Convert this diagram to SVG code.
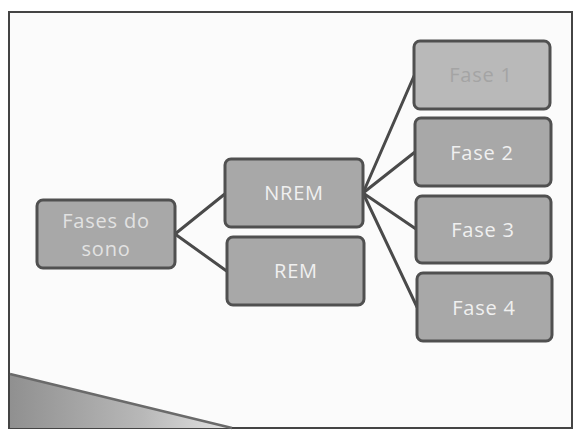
<svg xmlns="http://www.w3.org/2000/svg" width="575" height="432" viewBox="0 0 575 432">
<defs>
<linearGradient id="wedge" x1="0" y1="0" x2="1" y2="0">
<stop offset="0" stop-color="#909090"/>
<stop offset="0.6" stop-color="#b8b8b8"/>
<stop offset="1" stop-color="#e4e4e4"/>
</linearGradient>
</defs>
<style>
.box{fill:#a8a8a8;stroke:#505050;stroke-width:3}
.light{fill:#b9b9b9}
.lbl{font-family:"Open Sans","DejaVu Sans",sans-serif;font-size:20px;letter-spacing:0.8px;fill:#f0f0f0;text-anchor:middle}
.conn line{stroke:#4a4a4a;stroke-width:3;stroke-linecap:round}
</style>
<rect x="0" y="0" width="575" height="432" fill="#ffffff"/>
<rect x="9" y="12" width="563" height="416" fill="#fbfbfb" stroke="#444" stroke-width="2"/>
<polygon points="10,374 10,428 232,428" fill="url(#wedge)"/>
<line x1="10" y1="374" x2="232" y2="428" stroke="#6a6a6a" stroke-width="2.5"/>
<g class="conn">
<line x1="175" y1="234" x2="226" y2="193"/>
<line x1="175" y1="234" x2="228" y2="272"/>
<line x1="363" y1="193" x2="414" y2="76"/>
<line x1="363" y1="193" x2="415" y2="152"/>
<line x1="363" y1="193" x2="416" y2="229"/>
<line x1="363" y1="193" x2="417" y2="307"/>
</g>
<g id="fases-do-sono">
<rect class="box" x="37" y="200" width="138" height="68" rx="6"/>
<text class="lbl" x="106" y="228" style="fill:#e2e2e2">Fases do</text>
<text class="lbl" x="106" y="256" style="fill:#e2e2e2">sono</text>
</g>
<g id="nrem">
<rect class="box" x="225" y="159" width="138" height="68" rx="6"/>
<text class="lbl" x="294" y="200">NREM</text>
</g>
<g id="rem">
<rect class="box" x="227" y="237" width="137" height="68" rx="6"/>
<text class="lbl" x="296" y="278">REM</text>
</g>
<g id="fase1">
<rect class="box light" x="414" y="41" width="136" height="68" rx="6"/>
<text class="lbl" x="481" y="82" style="fill:#a4a4a4">Fase 1</text>
</g>
<g id="fase2">
<rect class="box" x="415" y="118" width="136" height="68" rx="6"/>
<text class="lbl" x="482" y="160">Fase 2</text>
</g>
<g id="fase3">
<rect class="box" x="416" y="196" width="135" height="67" rx="6"/>
<text class="lbl" x="483" y="237">Fase 3</text>
</g>
<g id="fase4">
<rect class="box" x="417" y="273" width="135" height="68" rx="6"/>
<text class="lbl" x="484" y="315">Fase 4</text>
</g>
</svg>
